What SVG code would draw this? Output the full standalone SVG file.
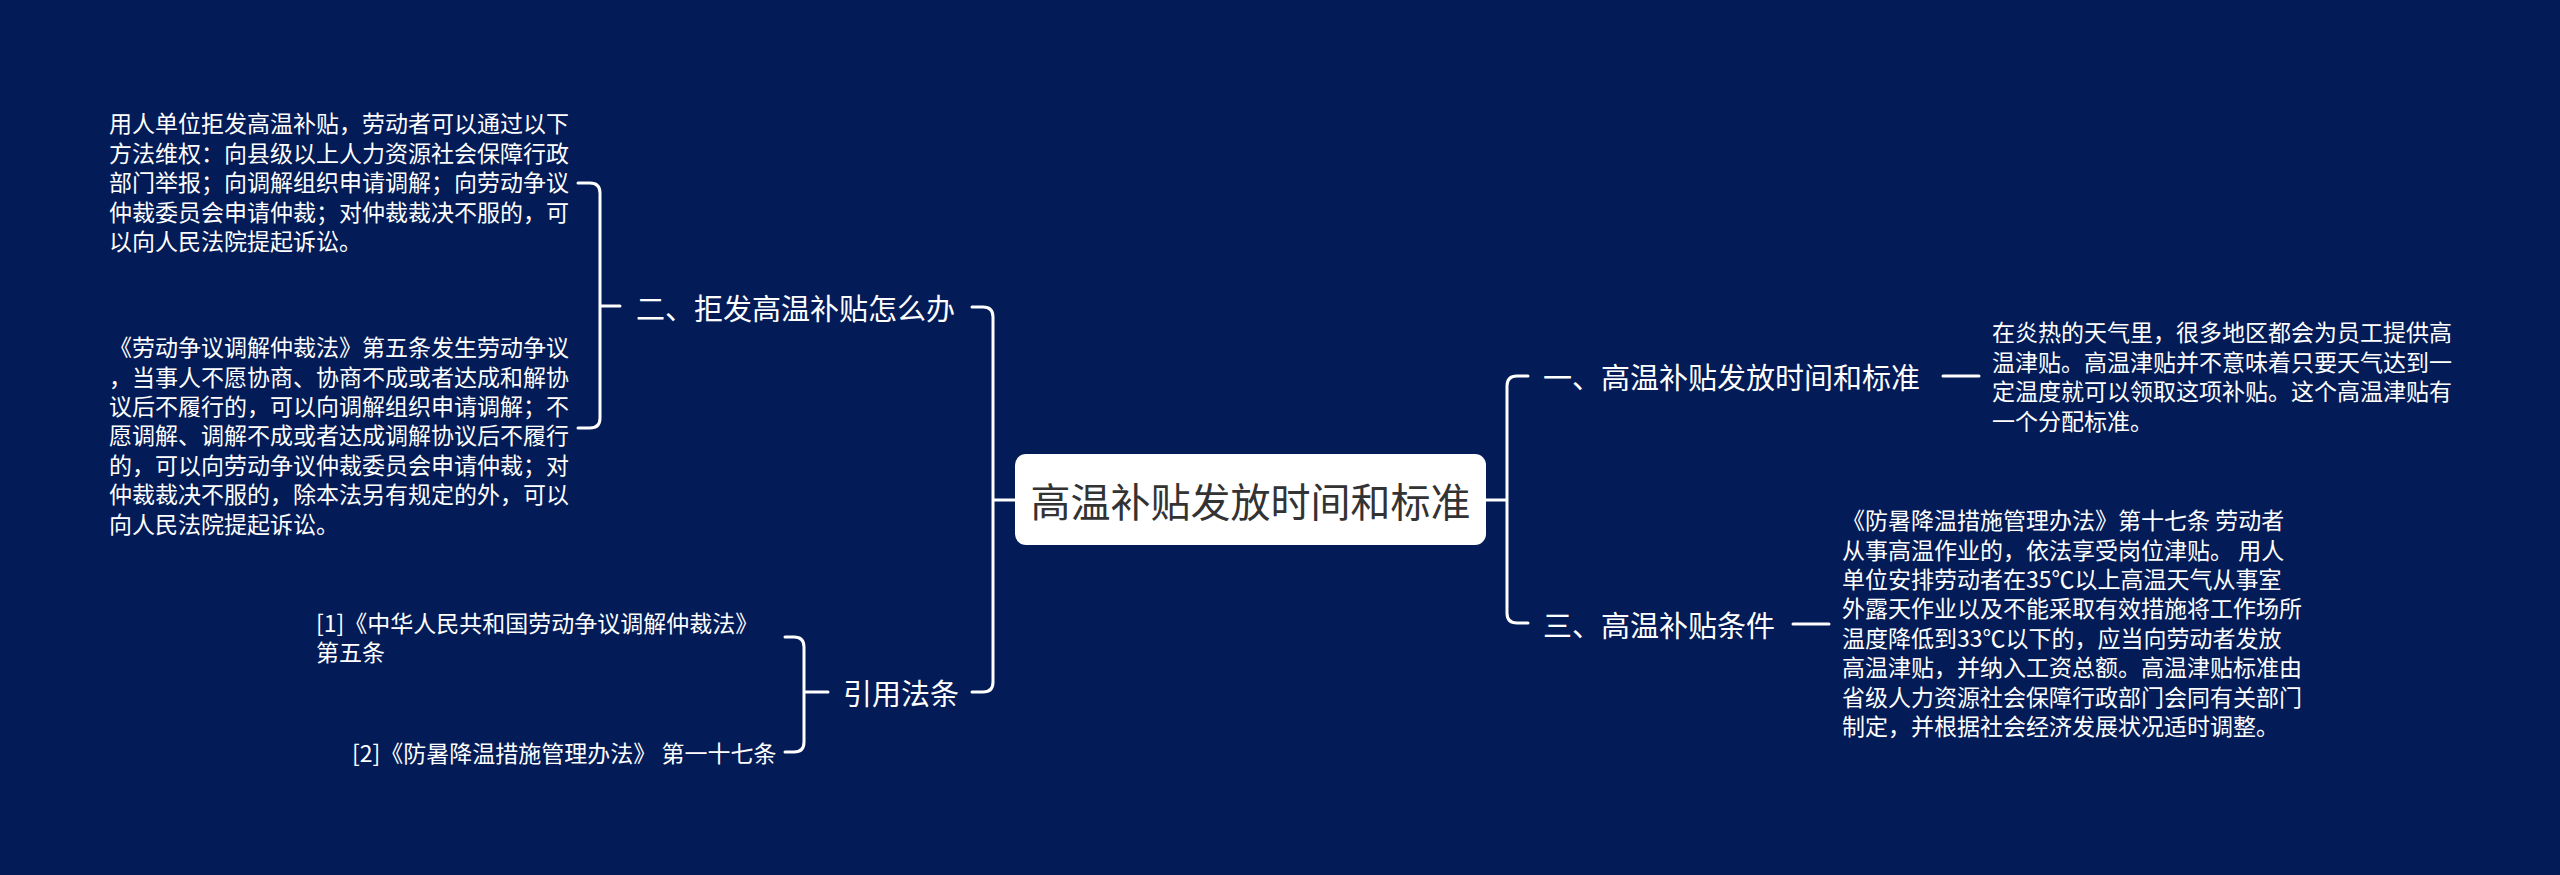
<svg xmlns="http://www.w3.org/2000/svg" width="2560" height="875" viewBox="0 0 2560 875">
<style>
.bg{fill:#031c57}
.ln{fill:none;stroke:#ffffff;stroke-width:3;stroke-linecap:round;stroke-linejoin:round}
.t{font-family:"Noto Sans CJK SC","Noto Sans",sans-serif;fill:#ffffff;dominant-baseline:central}
.main{font-size:29px}
.leaf{font-size:23px}
.root{font-family:"Noto Sans CJK SC","Noto Sans",sans-serif;font-size:40px;fill:#333333;dominant-baseline:central;text-anchor:middle}
</style>
<rect class="bg" x="0" y="0" width="2560" height="875"/>
<g id="connectors">
  <path class="ln" d="M1015,500 H993 M972,307 H983 Q993,307 993,317 V682 Q993,692 983,692 H972"/>
  <path class="ln" d="M620,306 H600 M578,183 H590 Q600,183 600,193 V418 Q600,428 590,428 H578"/>
  <path class="ln" d="M828,692 H804 M785,637 H794 Q804,637 804,647 V742 Q804,752 794,752 H785"/>
  <path class="ln" d="M1486,500 H1507 M1528,376 H1517 Q1507,376 1507,386 V613 Q1507,623 1517,623 H1528"/>
  <path class="ln" d="M1943,376 H1979"/>
  <path class="ln" d="M1793,624 H1829"/>
</g>
<g id="root">
  <rect x="1015" y="454" width="471" height="91" rx="11" ry="11" fill="#ffffff"/>
  <text class="root" x="1250.5" y="500">高温补贴发放时间和标准</text>
</g>
<g id="n2">
  <text class="t main" x="636" y="307">二、拒发高温补贴怎么办</text>
</g>
<g id="n2a">
  <text class="t leaf" x="109">
    <tspan x="109" y="122">用人单位拒发高温补贴，劳动者可以通过以下</tspan>
    <tspan x="109" y="152">方法维权：向县级以上人力资源社会保障行政</tspan>
    <tspan x="109" y="181">部门举报；向调解组织申请调解；向劳动争议</tspan>
    <tspan x="109" y="211">仲裁委员会申请仲裁；对仲裁裁决不服的，可</tspan>
    <tspan x="109" y="240">以向人民法院提起诉讼。</tspan>
  </text>
</g>
<g id="n2b">
  <text class="t leaf" x="109">
    <tspan x="109" y="346">《劳动争议调解仲裁法》第五条发生劳动争议</tspan>
    <tspan x="109" y="376">，当事人不愿协商、协商不成或者达成和解协</tspan>
    <tspan x="109" y="405">议后不履行的，可以向调解组织申请调解；不</tspan>
    <tspan x="109" y="434">愿调解、调解不成或者达成调解协议后不履行</tspan>
    <tspan x="109" y="464">的，可以向劳动争议仲裁委员会申请仲裁；对</tspan>
    <tspan x="109" y="493">仲裁裁决不服的，除本法另有规定的外，可以</tspan>
    <tspan x="109" y="523">向人民法院提起诉讼。</tspan>
  </text>
</g>
<g id="ref">
  <text class="t main" x="843" y="692">引用法条</text>
</g>
<g id="ref1">
  <text class="t leaf" x="316">
    <tspan x="316" y="622">[1]《中华人民共和国劳动争议调解仲裁法》</tspan>
    <tspan x="316" y="651">第五条</tspan>
  </text>
</g>
<g id="ref2">
  <text class="t leaf" x="352" y="752">[2]《防暑降温措施管理办法》 第一十七条</text>
</g>
<g id="n1">
  <text class="t main" x="1543" y="376">一、高温补贴发放时间和标准</text>
</g>
<g id="n1a">
  <text class="t leaf" x="1992">
    <tspan x="1992" y="331">在炎热的天气里，很多地区都会为员工提供高</tspan>
    <tspan x="1992" y="361">温津贴。高温津贴并不意味着只要天气达到一</tspan>
    <tspan x="1992" y="390">定温度就可以领取这项补贴。这个高温津贴有</tspan>
    <tspan x="1992" y="420">一个分配标准。</tspan>
  </text>
</g>
<g id="n3">
  <text class="t main" x="1543" y="624">三、高温补贴条件</text>
</g>
<g id="n3a">
  <text class="t leaf" x="1842">
    <tspan x="1842" y="519">《防暑降温措施管理办法》第十七条 劳动者</tspan>
    <tspan x="1842" y="549">从事高温作业的，依法享受岗位津贴。 用人</tspan>
    <tspan x="1842" y="578">单位安排劳动者在35℃以上高温天气从事室</tspan>
    <tspan x="1842" y="607">外露天作业以及不能采取有效措施将工作场所</tspan>
    <tspan x="1842" y="637">温度降低到33℃以下的，应当向劳动者发放</tspan>
    <tspan x="1842" y="666">高温津贴，并纳入工资总额。高温津贴标准由</tspan>
    <tspan x="1842" y="696">省级人力资源社会保障行政部门会同有关部门</tspan>
    <tspan x="1842" y="725">制定，并根据社会经济发展状况适时调整。</tspan>
  </text>
</g>
</svg>
